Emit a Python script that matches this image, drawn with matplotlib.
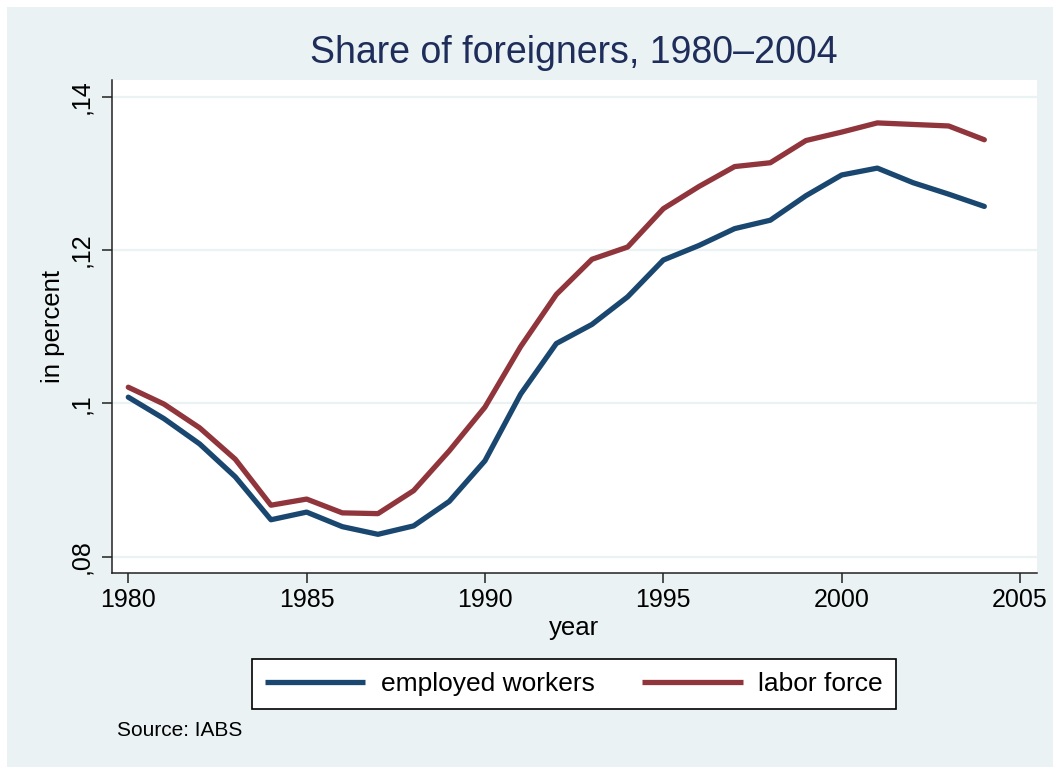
import matplotlib
matplotlib.use("Agg")
import matplotlib.pyplot as plt
from matplotlib.patches import Rectangle

years = list(range(1980, 2005))
employed = [0.1008, 0.0980, 0.0947, 0.0904, 0.0848, 0.0858, 0.0839, 0.0829, 0.0840,
            0.0872, 0.0925, 0.1012, 0.1078, 0.1103, 0.1139, 0.1187, 0.1206, 0.1228,
            0.1239, 0.1271, 0.1298, 0.1307, 0.1288, 0.1273, 0.1257]
labor = [0.1021, 0.0999, 0.0968, 0.0927, 0.0867, 0.0875, 0.0857, 0.0856, 0.0886,
         0.0938, 0.0995, 0.1074, 0.1142, 0.1188, 0.1204, 0.1254, 0.1283, 0.1309,
         0.1314, 0.1343, 0.1354, 0.1366, 0.1364, 0.1362, 0.1344]
xticks = [1980, 1985, 1990, 1995, 2000, 2005]
yticks = [0.08, 0.10, 0.12, 0.14]
ytick_labels = [",08", ",1", ",12", ",14"]
series_names = ["employed workers", "labor force"]
title = "Share of foreigners, 1980\u20132004"

plt.rcParams['font.family'] = ['Liberation Sans', 'DejaVu Sans']

BG = "#EAF2F3"
BLUE = "#1A476F"
RED = "#90353B"
W, H = 1053, 767

fig = plt.figure(figsize=(W / 100, H / 100), dpi=100, facecolor="white")
fig.patches.append(Rectangle((7 / W, 0), 1 - 7 / W, 1 - 7 / H, transform=fig.transFigure,
                             facecolor=BG, edgecolor="none", zorder=-10))

left, right, top, bottom = 111.7, 1037, 80, 572.7
ax = fig.add_axes([left / W, 1 - bottom / H, (right - left) / W, (bottom - top) / H])
ax.set_facecolor("white")

ax.plot(years, employed, color=BLUE, lw=3.8, solid_joinstyle="round",
        solid_capstyle="round", label=series_names[0], zorder=3)
ax.plot(years, labor, color=RED, lw=3.8, solid_joinstyle="round",
        solid_capstyle="round", label=series_names[1], zorder=3)

ax.set_xlim(1979.535, 2005.477)
ax.set_ylim(0.07789, 0.1422)
ax.set_xticks(xticks)
ax.set_yticks(yticks)
ax.set_yticklabels(ytick_labels)
ax.grid(axis="y", color=BG, lw=1.6, zorder=0)
ax.grid(axis="x", visible=False)

for s in ["top", "right"]:
    ax.spines[s].set_visible(False)
for s in ["left", "bottom"]:
    ax.spines[s].set_color("#222222")
    ax.spines[s].set_linewidth(1.1)

ax.tick_params(axis="both", direction="out", length=7.2, width=1.1, color="#222222",
               labelsize=18, labelcolor="black")
ax.tick_params(axis="x", pad=4)
ax.tick_params(axis="y", pad=6)
for lab in ax.get_yticklabels():
    lab.set_rotation(90)
    lab.set_va("center")

ax.set_xlabel("year", fontsize=18.5, labelpad=3)
ax.set_ylabel("in percent", fontsize=18.5, labelpad=3)

fig.text(574 / W, 1 - 63 / H, title, ha="center", va="baseline",
         fontsize=27, color="#1E2D5A")

leg = ax.legend(loc="center", bbox_to_anchor=(574 / W, 1 - 684 / H),
                bbox_transform=fig.transFigure, ncol=2, fontsize=19,
                frameon=True, fancybox=False, shadow=False,
                handlelength=3.8, handletextpad=0.6, columnspacing=1.8,
                borderpad=0.5)
frame = leg.get_frame()
frame.set_edgecolor("black")
frame.set_linewidth(1.2)
frame.set_facecolor("white")
frame.set_alpha(1)
for line in leg.get_lines():
    line.set_linewidth(3.8)
    line.set_solid_capstyle("butt")

fig.text(117 / W, 1 - 731 / H, "Source: IABS", ha="left", va="center", fontsize=15)

fig.savefig("out.png", dpi=100, facecolor=fig.get_facecolor())
